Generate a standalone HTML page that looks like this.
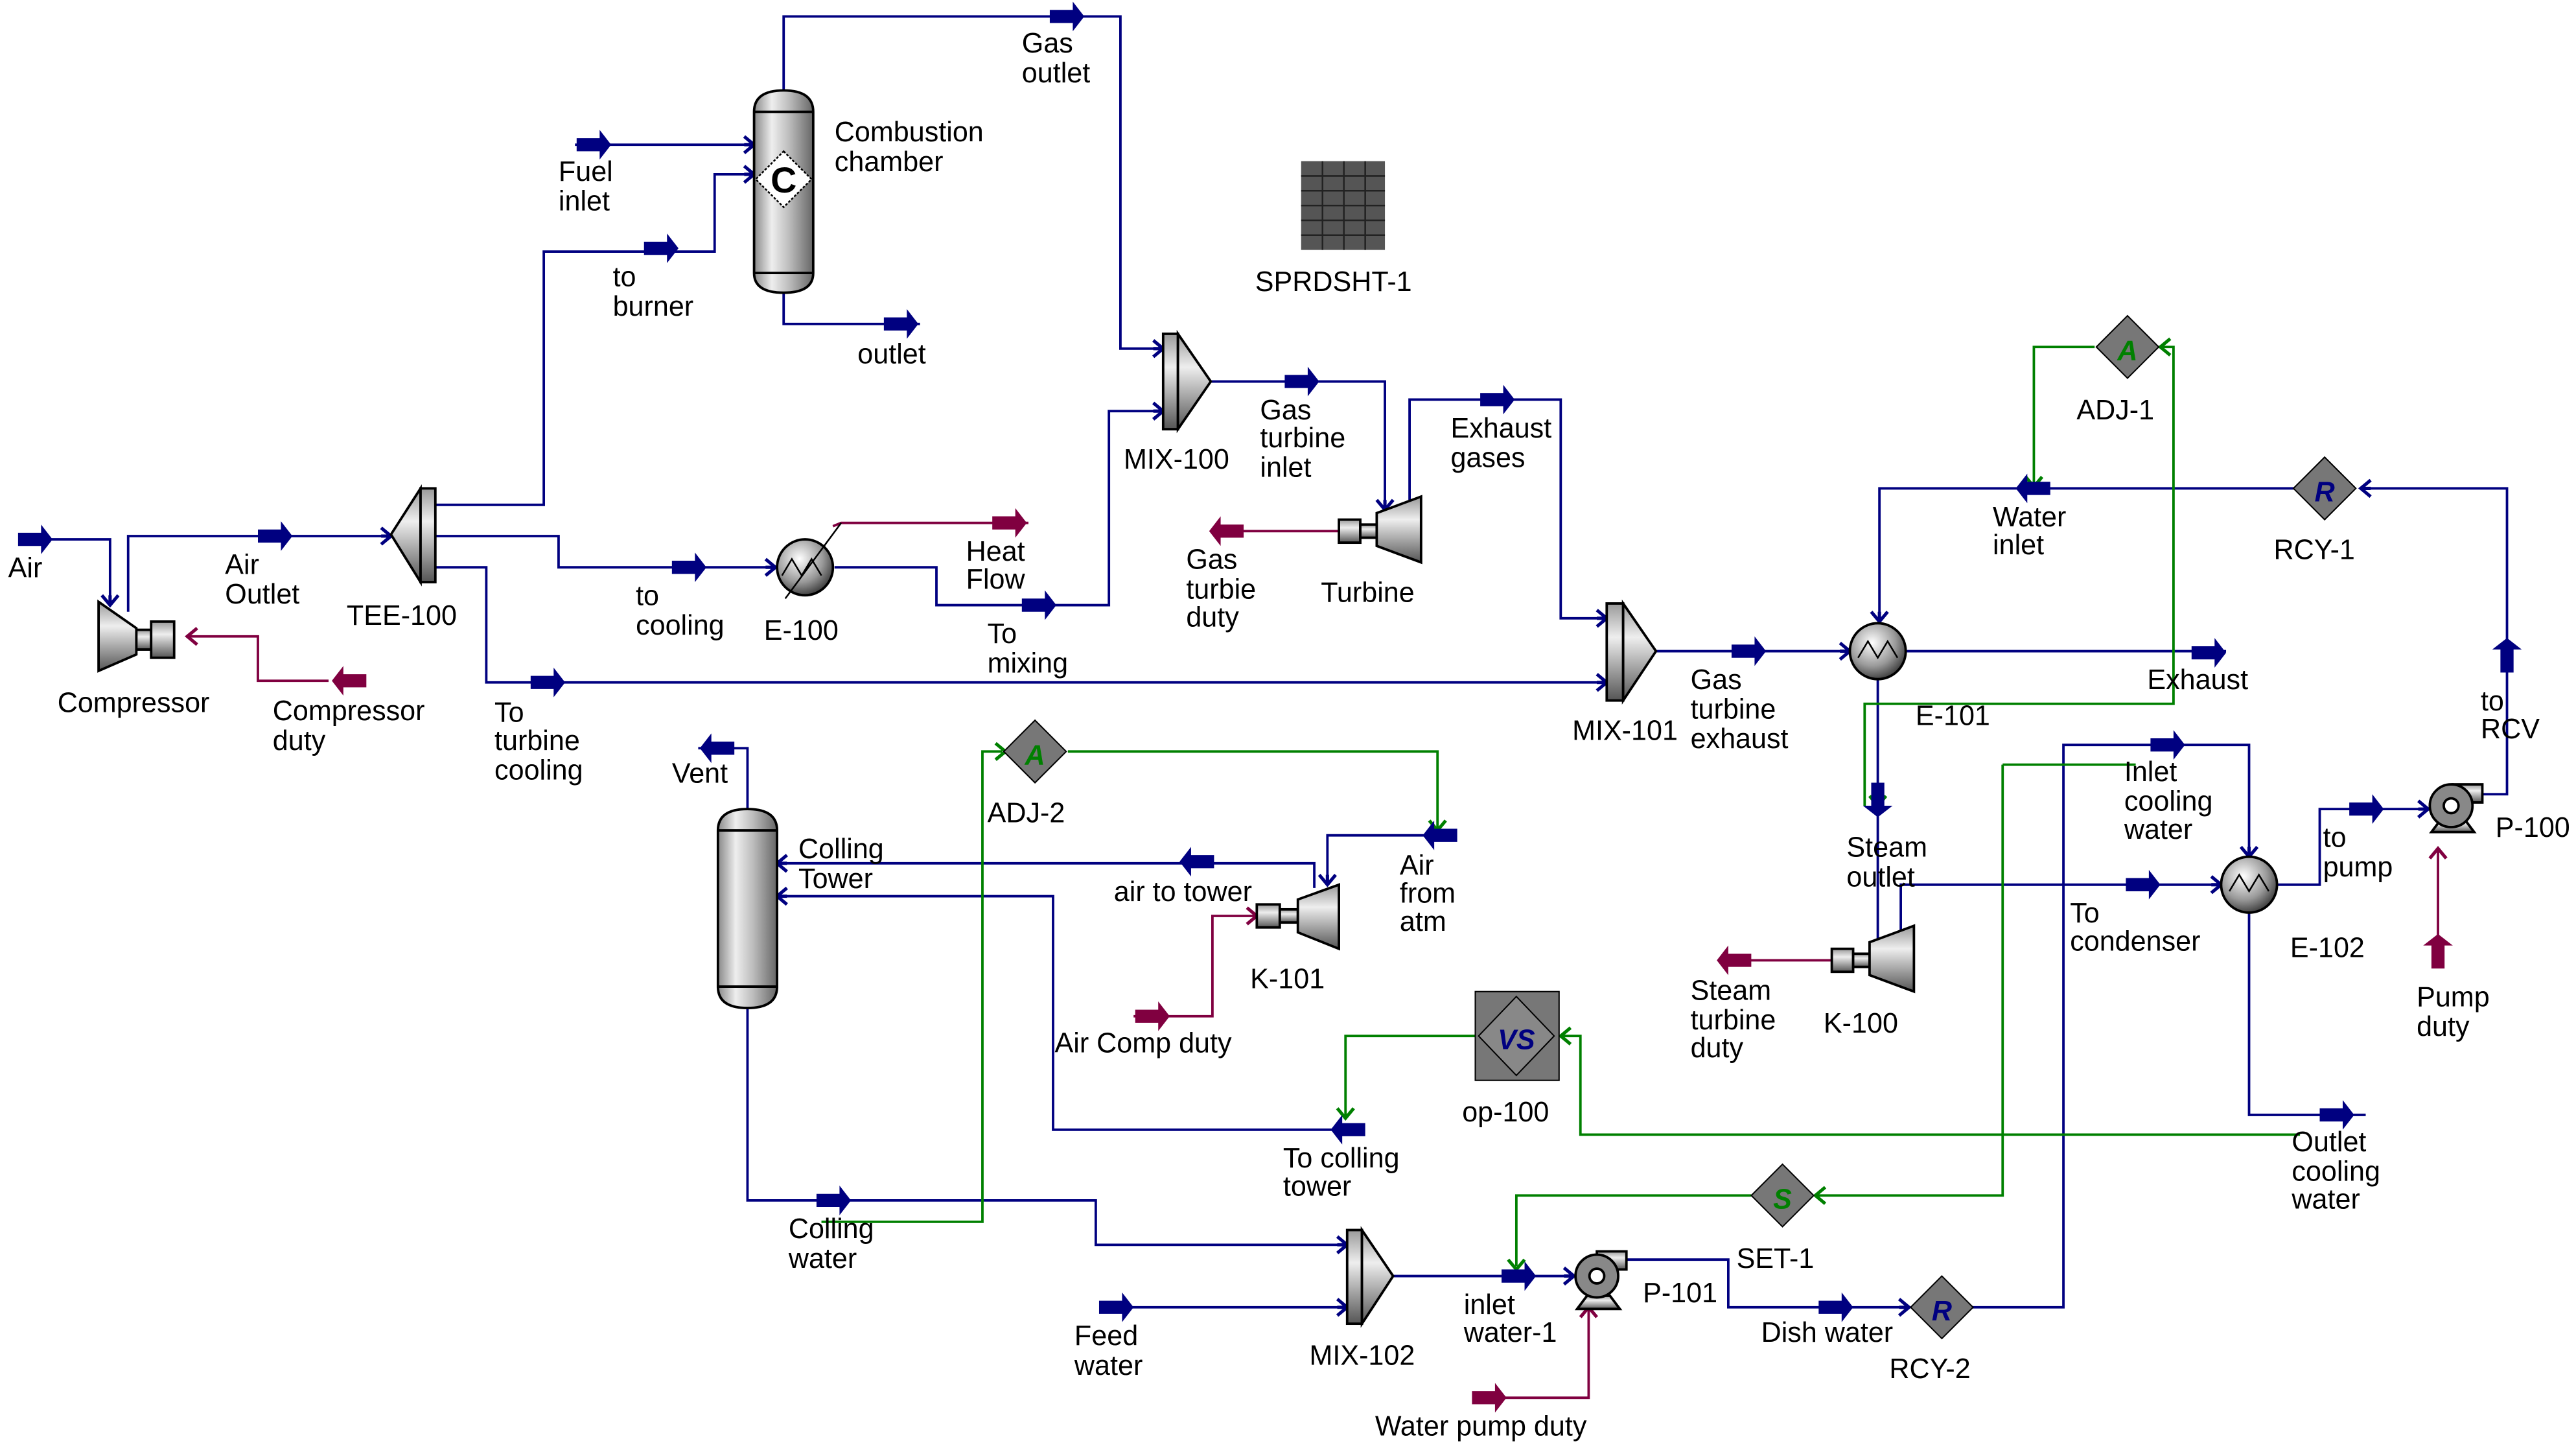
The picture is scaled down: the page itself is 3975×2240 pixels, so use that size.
<!DOCTYPE html>
<html><head><meta charset="utf-8"><style>
html,body{margin:0;padding:0;background:#fff;width:3975px;height:2240px;overflow:hidden}
svg{display:block}
text{font-family:"Liberation Sans Narrow","Liberation Sans",sans-serif;font-size:17px;fill:#000}
.b{stroke:#000080;stroke-width:1.5;fill:none}
.r{stroke:#800040;stroke-width:1.5;fill:none}
.g{stroke:#008000;stroke-width:1.5;fill:none}
</style></head><body>
<svg width="3975" height="2240" viewBox="0 0 1568 883" preserveAspectRatio="none" xmlns="http://www.w3.org/2000/svg">
<defs>
<linearGradient id="gv" x1="0" y1="0" x2="1" y2="0"><stop offset="0" stop-color="#888"/><stop offset=".3" stop-color="#eee"/><stop offset=".6" stop-color="#bbb"/><stop offset="1" stop-color="#666"/></linearGradient>
<linearGradient id="gh" x1="0" y1="0" x2="0" y2="1"><stop offset="0" stop-color="#999"/><stop offset=".35" stop-color="#eee"/><stop offset="1" stop-color="#555"/></linearGradient>
<radialGradient id="gs" cx=".4" cy=".35" r=".7"><stop offset="0" stop-color="#fff"/><stop offset=".6" stop-color="#999"/><stop offset="1" stop-color="#333"/></radialGradient>
<path id="ab" d="M-11,-4H3V-9L10,0 3,9V4H-11Z" fill="#000080"/>
<path id="ar" d="M-11,-4H3V-9L10,0 3,9V4H-11Z" fill="#800040"/>
<path id="tip" d="M-6,-5L0,0-6,5M0,0H-6" fill="none" stroke="#000080" stroke-width="2"/>
<path id="tipg" d="M-6,-5L0,0-6,5" fill="none" stroke="#008000" stroke-width="2"/>
<path id="tipr" d="M-6,-5L0,0-6,5" fill="none" stroke="#800040" stroke-width="2"/>
</defs>

<g class="b">
<path d="M20,328H67V368"/>
<path d="M78,372V326H238"/>
<path d="M265,307H331V153H435V106H459"/>
<path d="M350,88H459"/>
<path d="M265,326H340V345H472"/>
<path d="M265,345H296V415H978"/>
<path d="M477,55V10H682V212H708"/>
<path d="M477,178V197H560"/>
<path d="M508,345H570V368H675V250H708"/>
<path d="M737,232H843V310"/>
<path d="M858,304V243H950V376H978"/>
<path d="M1008,396H1126"/>
<path d="M1160,396H1355"/>
<path d="M1415,297H1144V378"/>
<path d="M1510,483H1526V297H1437"/>
<path d="M1143,413V580"/>
<path d="M1157,573V538H1352"/>
<path d="M1200,795H1256V453H1369V521"/>
<path d="M1369,555V678H1440"/>
<path d="M1386,538H1412V492H1478"/>
<path d="M455,492V455H425"/>
<path d="M800,540V525H473"/>
<path d="M876,508H808V538"/>
<path d="M820,687H641V545H473"/>
<path d="M455,613V730H667V757H820"/>
<path d="M670,795H820"/>
<path d="M848,776H958"/>
<path d="M990,766H1052V795H1162"/>
</g>
<g class="r">
<path d="M200,414H157V387H114"/>
<path d="M507,320L512,318H626"/>
<path d="M815,323H750"/>
<path d="M1115,584H1050"/>
<path d="M1484,580V516"/>
<path d="M690,618H738V557H765"/>
<path d="M900,850H967V795"/>
</g>
<g class="g">
<path d="M1275,211H1238V296"/>
<path d="M1313,211H1323V428H1135V490"/>
<path d="M1219,465H1300"/>
<path d="M1219,465V727H1105"/>
<path d="M1066,727H923V770"/>
<path d="M898,630H819V680"/>
<path d="M950,630H962V690H1400"/>
<path d="M650,457H875V505"/>
<path d="M610,457H598V743H500"/>
</g>
<use href="#tipg" transform="translate(1238,296) rotate(90)"/>
<use href="#tipg" transform="translate(1315,211) rotate(180)"/>
<use href="#tipg" transform="translate(1105,727) rotate(180)"/>
<use href="#tipg" transform="translate(923,772) rotate(90)"/>
<use href="#tipg" transform="translate(819,680) rotate(90)"/>
<use href="#tipg" transform="translate(950,630) rotate(180)"/>
<use href="#tipg" transform="translate(875,505) rotate(90)"/>
<use href="#tipg" transform="translate(612,457)"/>
<use href="#tipg" transform="translate(1143,490) rotate(90)"/>

<use href="#tip" transform="translate(67,368) rotate(90)"/>
<use href="#tip" transform="translate(238,326)"/>
<use href="#tip" transform="translate(459,88)"/>
<use href="#tip" transform="translate(459,106)"/>
<use href="#tip" transform="translate(472,345)"/>
<use href="#tip" transform="translate(708,212)"/>
<use href="#tip" transform="translate(708,250)"/>
<use href="#tip" transform="translate(843,310) rotate(90)"/>
<use href="#tip" transform="translate(978,376)"/>
<use href="#tip" transform="translate(978,415)"/>
<use href="#tip" transform="translate(1126,396)"/>
<use href="#tip" transform="translate(1144,378) rotate(90)"/>
<use href="#tip" transform="translate(1437,297) rotate(180)"/>
<use href="#tip" transform="translate(1143,580) rotate(90)"/>
<use href="#tip" transform="translate(1352,538)"/>
<use href="#tip" transform="translate(1369,521) rotate(90)"/>
<use href="#tip" transform="translate(1478,492)"/>
<use href="#tip" transform="translate(473,525) rotate(180)"/>
<use href="#tip" transform="translate(473,545) rotate(180)"/>
<use href="#tip" transform="translate(808,538) rotate(90)"/>
<use href="#tip" transform="translate(820,757)"/>
<use href="#tip" transform="translate(820,795)"/>
<use href="#tip" transform="translate(958,776)"/>
<use href="#tip" transform="translate(1162,795)"/>
<use href="#tipr" transform="translate(114,387) rotate(180)"/>
<use href="#tipr" transform="translate(765,557)"/>
<use href="#tipr" transform="translate(967,795) rotate(-90)"/>
<use href="#tipr" transform="translate(1484,516) rotate(-90)"/>

<use href="#ab" transform="translate(22,328)"/>
<use href="#ab" transform="translate(168,326)"/>
<use href="#ab" transform="translate(403,151)"/>
<use href="#ab" transform="translate(362,88)"/>
<use href="#ab" transform="translate(420,345)"/>
<use href="#ab" transform="translate(334,415)"/>
<use href="#ab" transform="translate(650,10)"/>
<use href="#ab" transform="translate(549,197)"/>
<use href="#ab" transform="translate(633,368)"/>
<use href="#ab" transform="translate(793,232)"/>
<use href="#ab" transform="translate(912,243)"/>
<use href="#ab" transform="translate(1065,396)"/>
<use href="#ab" transform="translate(1345,397)"/>
<use href="#ab" transform="translate(1237,297) rotate(180)"/>
<use href="#ab" transform="translate(1526,398) rotate(-90)"/>
<use href="#ab" transform="translate(1143,487) rotate(90)"/>
<use href="#ab" transform="translate(1305,538)"/>
<use href="#ab" transform="translate(1320,453)"/>
<use href="#ab" transform="translate(1423,678)"/>
<use href="#ab" transform="translate(1441,492)"/>
<use href="#ab" transform="translate(436,455) rotate(180)"/>
<use href="#ab" transform="translate(728,524) rotate(180)"/>
<use href="#ab" transform="translate(876,508) rotate(180)"/>
<use href="#ab" transform="translate(820,687) rotate(180)"/>
<use href="#ab" transform="translate(508,730)"/>
<use href="#ab" transform="translate(680,795)"/>
<use href="#ab" transform="translate(925,776)"/>
<use href="#ab" transform="translate(1118,795)"/>
<use href="#ar" transform="translate(212,414) rotate(180)"/>
<use href="#ar" transform="translate(615,318)"/>
<use href="#ar" transform="translate(746,323) rotate(180)"/>
<use href="#ar" transform="translate(1055,584) rotate(180)"/>
<use href="#ar" transform="translate(1484,578) rotate(-90)"/>
<use href="#ar" transform="translate(702,618)"/>
<use href="#ar" transform="translate(907,850)"/>

<g stroke="#000" stroke-width="1.5">
<path d="M60,366L83,382V398L60,408Z" fill="url(#gh)"/>
<rect x="83" y="383" width="9" height="12" fill="url(#gh)"/>
<rect x="92" y="378" width="14" height="22" fill="url(#gh)"/>
<path d="M256,297L238,325L256,354Z" fill="url(#gh)"/>
<rect x="256" y="297" width="9" height="57" fill="url(#gh)"/>
<path d="M459,68Q459,55 477,55Q495,55 495,68V166Q495,178 477,178Q459,178 459,166Z" fill="url(#gv)"/>
<path d="M459,68H495M459,166H495" />
<circle cx="490" cy="345" r="17" fill="url(#gs)"/>
<rect x="708" y="203" width="9" height="58" fill="url(#gh)"/>
<path d="M717,203L737,232L717,261Z" fill="url(#gh)"/>
<rect x="815" y="316" width="13" height="14" fill="url(#gh)"/>
<rect x="828" y="319" width="10" height="8" fill="url(#gh)"/>
<path d="M838,312L865,302V342L838,332Z" fill="url(#gh)"/>
<rect x="978" y="367" width="10" height="59" fill="url(#gh)"/>
<path d="M988,367L1008,396L988,426Z" fill="url(#gh)"/>
<circle cx="1143" cy="396" r="17" fill="url(#gs)"/>
<rect x="1115" y="577" width="13" height="14" fill="url(#gh)"/>
<rect x="1128" y="580" width="10" height="8" fill="url(#gh)"/>
<path d="M1138,573L1165,563V603L1138,593Z" fill="url(#gh)"/>
<circle cx="1369" cy="538" r="17" fill="url(#gs)"/>
<path d="M1480,506L1486,498H1500L1506,506Z" fill="url(#gh)"/>
<rect x="1493" y="477" width="18" height="11" fill="url(#gh)"/>
<circle cx="1492" cy="490" r="13" fill="#888"/>
<circle cx="1492" cy="490" r="4.5" fill="#fff"/>
<path d="M960,796L966,788H980L986,796Z" fill="url(#gh)"/>
<rect x="972" y="761" width="18" height="11" fill="url(#gh)"/>
<circle cx="972" cy="776" r="13" fill="#888"/>
<circle cx="972" cy="776" r="4.5" fill="#fff"/>
<path d="M437,505Q437,492 455,492Q473,492 473,505V600Q473,613 455,613Q437,613 437,600Z" fill="url(#gv)"/>
<path d="M437,505H473M437,600H473"/>
<rect x="765" y="550" width="14" height="14" fill="url(#gh)"/>
<rect x="779" y="553" width="11" height="8" fill="url(#gh)"/>
<path d="M790,547L815,538V577L790,567Z" fill="url(#gh)"/>
<rect x="820" y="748" width="9" height="57" fill="url(#gh)"/>
<path d="M829,748L848,776L829,805Z" fill="url(#gh)"/>
</g>
<path d="M477,92L494,109 477,126 460,109Z" fill="#fff" stroke="#000" stroke-dasharray="1.5,1"/>
<text x="477" y="117" text-anchor="middle" style="font-size:22px;font-weight:bold;font-family:'Liberation Sans',sans-serif">C</text>
<path d="M476,350L482,340 488,350 494,340 500,350M478,364L512,318" stroke="#000" fill="none" stroke-width="1"/>
<path d="M1131,400L1137,390 1143,400 1149,390 1155,400" stroke="#000" fill="none"/>
<path d="M1357,542L1363,532 1369,542 1375,532 1381,542" stroke="#000" fill="none"/>

<g>
<rect x="792" y="98" width="51" height="54" fill="#555"/>
<path d="M792,107H843M792,116H843M792,125H843M792,134H843M792,143H843M805,98V152M818,98V152M831,98V152" stroke="#222" stroke-width="1"/>
</g>
<g stroke="#000" stroke-width="0.8" fill="#777">
<path d="M1295,192L1314,211 1295,230 1276,211Z"/>
<path d="M1415,278L1434,297 1415,316 1396,297Z"/>
<path d="M630,438L649,457 630,476 611,457Z"/>
<path d="M1085,708L1104,727 1085,746 1066,727Z"/>
<path d="M1182,776L1201,795 1182,814 1163,795Z"/>
<rect x="898" y="603" width="51" height="54" fill="#777"/>
<path d="M923,606L946,630 923,654 900,630Z" fill="#888"/>
</g>
<g style="font-family:'Liberation Sans',sans-serif;font-weight:bold;font-style:italic;font-size:22px" text-anchor="middle">
<text x="1295" y="219" style="fill:#008000">A</text>
<text x="630" y="465" style="fill:#008000">A</text>
<text x="1085" y="735" style="fill:#008000">S</text>
<text x="1415" y="305" style="fill:#000080">R</text>
<text x="1182" y="803" style="fill:#000080">R</text>
<text x="923" y="638" style="fill:#000080">VS</text>
</g>

<g>
<text x="5" y="351">Air</text>
<text x="137" y="349">Air</text><text x="137" y="367">Outlet</text>
<text x="35" y="433">Compressor</text>
<text x="166" y="438">Compressor</text><text x="166" y="456">duty</text>
<text x="211" y="380">TEE-100</text>
<text x="301" y="439">To</text><text x="301" y="456">turbine</text><text x="301" y="474">cooling</text>
<text x="340" y="110">Fuel</text><text x="340" y="128">inlet</text>
<text x="373" y="174">to</text><text x="373" y="192">burner</text>
<text x="508" y="86">Combustion</text><text x="508" y="104">chamber</text>
<text x="522" y="221">outlet</text>
<text x="622" y="32">Gas</text><text x="622" y="50">outlet</text>
<text x="387" y="368">to</text><text x="387" y="386">cooling</text>
<text x="465" y="389">E-100</text>
<text x="588" y="341">Heat</text><text x="588" y="358">Flow</text>
<text x="601" y="391">To</text><text x="601" y="409">mixing</text>
<text x="684" y="285">MIX-100</text>
<text x="767" y="255">Gas</text><text x="767" y="272">turbine</text><text x="767" y="290">inlet</text>
<text x="883" y="266">Exhaust</text><text x="883" y="284">gases</text>
<text x="722" y="346">Gas</text><text x="722" y="364">turbie</text><text x="722" y="381">duty</text>
<text x="804" y="366">Turbine</text>
<text x="764" y="177">SPRDSHT-1</text>
<text x="957" y="450">MIX-101</text>
<text x="1029" y="419">Gas</text><text x="1029" y="437">turbine</text><text x="1029" y="455">exhaust</text>
<text x="1166" y="441">E-101</text>
<text x="1307" y="419">Exhaust</text>
<text x="1264" y="255">ADJ-1</text>
<text x="1213" y="320">Water</text><text x="1213" y="337">inlet</text>
<text x="1384" y="340">RCY-1</text>
<text x="1510" y="432">to</text><text x="1510" y="449">RCV</text>
<text x="1519" y="509">P-100</text>
<text x="1293" y="475">Inlet</text><text x="1293" y="493">cooling</text><text x="1293" y="510">water</text>
<text x="1124" y="521">Steam</text><text x="1124" y="539">outlet</text>
<text x="1260" y="561">To</text><text x="1260" y="578">condenser</text>
<text x="1414" y="515">to</text><text x="1414" y="533">pump</text>
<text x="1394" y="582">E-102</text>
<text x="1471" y="612">Pump</text><text x="1471" y="630">duty</text>
<text x="1029" y="608">Steam</text><text x="1029" y="626">turbine</text><text x="1029" y="643">duty</text>
<text x="1110" y="628">K-100</text>
<text x="409" y="476">Vent</text>
<text x="486" y="522">Colling</text><text x="486" y="540">Tower</text>
<text x="601" y="500">ADJ-2</text>
<text x="678" y="548">air to tower</text>
<text x="852" y="532">Air</text><text x="852" y="549">from</text><text x="852" y="566">atm</text>
<text x="761" y="601">K-101</text>
<text x="642" y="640">Air Comp duty</text>
<text x="890" y="682">op-100</text>
<text x="781" y="710">To colling</text><text x="781" y="727">tower</text>
<text x="1395" y="700">Outlet</text><text x="1395" y="718">cooling</text><text x="1395" y="735">water</text>
<text x="480" y="753">Colling</text><text x="480" y="771">water</text>
<text x="1057" y="771">SET-1</text>
<text x="654" y="818">Feed</text><text x="654" y="836">water</text>
<text x="797" y="830">MIX-102</text>
<text x="891" y="799">inlet</text><text x="891" y="816">water-1</text>
<text x="1000" y="792">P-101</text>
<text x="1072" y="816">Dish water</text>
<text x="1150" y="838">RCY-2</text>
<text x="837" y="873">Water pump duty</text>
</g>
</svg>
</body></html>
